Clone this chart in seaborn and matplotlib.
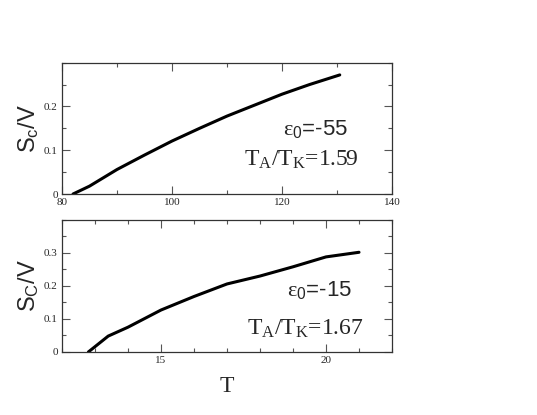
import matplotlib
matplotlib.use("Agg")
import matplotlib.pyplot as plt
from matplotlib.ticker import MultipleLocator
import seaborn as sns
import pandas as pd

# top panel: eps0 = -55
t_top = [82, 85, 90, 95, 100, 105, 110, 115, 120, 125, 130.5]
s_top = [0, 0.018, 0.056, 0.089, 0.121, 0.150, 0.178, 0.203, 0.228, 0.250, 0.272]

# bottom panel: eps0 = -15
t_bot = [12.8, 13.4, 14, 15, 16, 17, 18, 19, 20, 21]
s_bot = [0, 0.048, 0.075, 0.127, 0.168, 0.206, 0.230, 0.258, 0.288, 0.302]

sns.set_style("ticks")
plt.rcParams['font.family'] = ['Liberation Serif', 'DejaVu Serif']
plt.rcParams['mathtext.fontset'] = 'custom'
plt.rcParams['mathtext.rm'] = 'Liberation Serif'
plt.rcParams['mathtext.it'] = 'Liberation Serif'
plt.rcParams['mathtext.sf'] = 'Liberation Sans'

sans = ['Liberation Sans', 'DejaVu Sans']

fig = plt.figure(figsize=(5.37, 4.15), dpi=100)
ax1 = fig.add_axes([0.1155, 0.5325, 0.6145, 0.3165])
ax2 = fig.add_axes([0.1155, 0.152, 0.6145, 0.318])

df1 = pd.DataFrame({'T': t_top, 'S': s_top})
df2 = pd.DataFrame({'T': t_bot, 'S': s_bot})
sns.lineplot(data=df1, x='T', y='S', ax=ax1, color='black', lw=2.2)
sns.lineplot(data=df2, x='T', y='S', ax=ax2, color='black', lw=2.2)

ax1.set_xlim(80, 140)
ax1.set_ylim(0, 0.3)
ax1.set_xticks([80, 100, 120, 140])
ax1.set_xticklabels(['80', '100', '120', '140'])
ax1.set_yticks([0, 0.1, 0.2])
ax1.set_yticklabels(['0', '0.1', '0.2'])
ax1.xaxis.set_minor_locator(MultipleLocator(10))
ax1.yaxis.set_minor_locator(MultipleLocator(0.05))

ax2.set_xlim(12, 22)
ax2.set_ylim(0, 0.4)
ax2.set_xticks([15, 20])
ax2.set_xticklabels(['15', '20'])
ax2.set_yticks([0, 0.1, 0.2, 0.3])
ax2.set_yticklabels(['0', '0.1', '0.2', '0.3'])
ax2.xaxis.set_minor_locator(MultipleLocator(1))
ax2.yaxis.set_minor_locator(MultipleLocator(0.05))

for ax in (ax1, ax2):
    ax.tick_params(which='both', direction='in', top=True, right=True,
                   labelsize=8, width=0.8, color='#555555')
    ax.tick_params(which='major', length=6, pad=3)
    ax.tick_params(which='minor', length=3)
    for sp in ax.spines.values():
        sp.set_linewidth(0.9)
        sp.set_color('#333333')
    ax.set_xlabel('')

ax1.set_ylabel(r'S$_\mathsf{c}$/V', fontsize=17, labelpad=2, family=sans)
ax2.set_ylabel(r'S$_\mathsf{C}$/V', fontsize=17, labelpad=2, family=sans)
ax2.set_xlabel('T', fontsize=17, labelpad=8)

ax1.text(0.767, 0.449, r'$\mathrm{\varepsilon}_\mathsf{0}$=-55', transform=ax1.transAxes,
         fontsize=16, ha='center', va='baseline', family=sans)
ax1.text(0.724, 0.216, r'T$_\mathrm{A}$/T$_\mathrm{K}$=1.59', transform=ax1.transAxes,
         fontsize=17, ha='center', va='baseline')

ax2.text(0.779, 0.424, r'$\mathrm{\varepsilon}_\mathsf{0}$=-15', transform=ax2.transAxes,
         fontsize=16, ha='center', va='baseline', family=sans)
ax2.text(0.738, 0.129, r'T$_\mathrm{A}$/T$_\mathrm{K}$=1.67', transform=ax2.transAxes,
         fontsize=17, ha='center', va='baseline')

fig.savefig('out.png', dpi=100)
